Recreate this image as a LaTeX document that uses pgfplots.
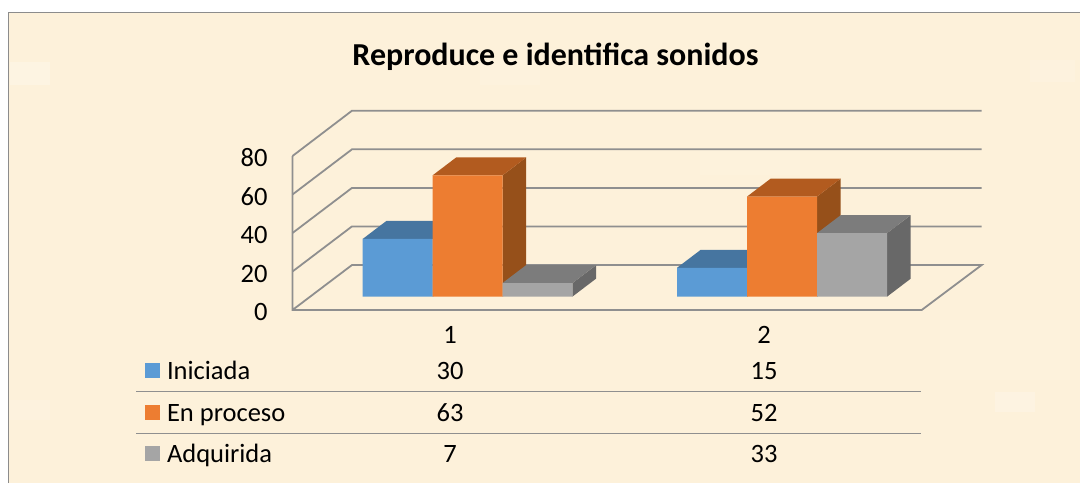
\documentclass[border=0pt]{standalone}
\usepackage{pgfplots}
\pgfplotsset{compat=1.18}
\usepackage{fontspec}
\setmainfont{Carlito}
\definecolor{bgc}{HTML}{FDF1DA}
\definecolor{frm}{HTML}{8C8C8C}
\definecolor{grd}{HTML}{8F8F8F}
\definecolor{bl}{HTML}{5B9BD5}
\definecolor{blt}{HTML}{4675A0}
\definecolor{bls}{HTML}{3D6A94}
\definecolor{or}{HTML}{ED7D31}
\definecolor{ort}{HTML}{B25B1F}
\definecolor{ors}{HTML}{96501A}
\definecolor{gr}{HTML}{A5A5A5}
\definecolor{grt}{HTML}{7C7C7C}
\definecolor{grs}{HTML}{686868}
\pgfplotsset{common/.style={
  scale only axis, width=1080bp, height=483bp, hide axis, clip=true,
  xmin=0, xmax=1080, at={(0,0)}, anchor=south west}}
\def\fs{\fontsize{26.6}{30}\selectfont}
\begin{document}
\begin{tikzpicture}[x=1bp,y=1bp]
% Layout layer: pixel coordinates
\begin{axis}[common, ymin=0, ymax=483, y dir=reverse]
\addplot[fill=white,draw=none] coordinates {(0,0)(1080,0)(1080,483)(0,483)} --cycle;
\addplot[fill=bgc,draw=none] coordinates {(9,13)(1080,13)(1080,483)(9,483)} --cycle;
% soft parchment blotches
\addplot[fill=white,fill opacity=.22,draw=none] coordinates {(10,62)(50,62)(50,85)(10,85)} --cycle;
\addplot[fill=white,fill opacity=.2,draw=none] coordinates {(995,392)(1035,392)(1035,412)(995,412)} --cycle;
\addplot[fill=white,fill opacity=.12,draw=none] coordinates {(1030,60)(1075,60)(1075,82)(1030,82)} --cycle;
\addplot[fill=white,fill opacity=.12,draw=none] coordinates {(10,400)(50,400)(50,420)(10,420)} --cycle;
\addplot[fill=white,fill opacity=.1,draw=none] coordinates {(480,60)(540,60)(540,85)(480,85)} --cycle;
\addplot[fill=white,fill opacity=.08,draw=none] coordinates {(700,150)(800,150)(800,175)(700,175)} --cycle;
\addplot[fill=white,fill opacity=.08,draw=none] coordinates {(940,320)(1070,320)(1070,380)(940,380)} --cycle;
% frame
\addplot[frm,line width=1.6bp] coordinates {(8.5,483)(8.5,12.5)(1080,12.5)};
% walls: gridlines
\addplot[grd,line width=1.8bp] coordinates {(292.5,156)(352,110.7)(981.7,110.7)};
\addplot[grd,line width=1.8bp] coordinates {(292.5,194.5)(352,149.3)(981.7,149.3)};
\addplot[grd,line width=1.8bp] coordinates {(292.5,233)(352,187.9)(981.7,187.9)};
\addplot[grd,line width=1.8bp] coordinates {(292.5,271.5)(352,226.4)(981.7,226.4)};
\addplot[grd,line width=1.8bp] coordinates {(292.5,310)(352,265)(981.7,265)(921.7,310)(292.5,310)(292.5,156)};
% table rules
\addplot[grd,line width=1.4bp] coordinates {(136,391.5)(920.5,391.5)};
\addplot[grd,line width=1.4bp] coordinates {(136,433.5)(920.5,433.5)};
% legend keys
\addplot[fill=bl,draw=none] coordinates {(145,363)(160,363)(160,378)(145,378)} --cycle;
\addplot[fill=or,draw=none] coordinates {(145,405)(160,405)(160,420)(145,420)} --cycle;
\addplot[fill=gr,draw=none] coordinates {(145,446)(160,446)(160,461)(145,461)} --cycle;
% text
\node[font=\bfseries\fontsize{32.1}{36}\selectfont,anchor=base] at (axis cs:555.5,66) {Reproduce e identifica sonidos};
\node[font=\fs,anchor=base east] at (axis cs:271,166.5) {80};
\node[font=\fs,anchor=base east] at (axis cs:271,205) {60};
\node[font=\fs,anchor=base east] at (axis cs:271,243.5) {40};
\node[font=\fs,anchor=base east] at (axis cs:271,282) {20};
\node[font=\fs,anchor=base east] at (axis cs:271,320.5) {0};
\node[font=\fs,anchor=base] at (axis cs:450,343.5) {1};
\node[font=\fs,anchor=base] at (axis cs:764,343.5) {2};
\node[font=\fs,anchor=base west] at (axis cs:163.5,379) {Iniciada};
\node[font=\fs,anchor=base west] at (axis cs:163.5,421) {En proceso};
\node[font=\fs,anchor=base west] at (axis cs:163.5,462.5) {Adquirida};
\node[font=\fs,anchor=base] at (axis cs:450,379) {30};
\node[font=\fs,anchor=base] at (axis cs:764,379) {15};
\node[font=\fs,anchor=base] at (axis cs:450,421) {63};
\node[font=\fs,anchor=base] at (axis cs:764,421) {52};
\node[font=\fs,anchor=base] at (axis cs:450,462.5) {7};
\node[font=\fs,anchor=base] at (axis cs:764,462.5) {33};
\end{axis}
% Bars: y is the value (0 at the bars' base)
\begin{axis}[common, ymin=-96.78, ymax=154.13]
% Iniciada
\addplot[fill=bls,draw=none] coordinates {(432.7,0)(456.4,9.35)(456.4,39.35)(432.7,30)} --cycle;
\addplot[fill=blt,draw=none] coordinates {(362.7,30)(432.7,30)(456.4,39.35)(386.4,39.35)} --cycle;
\addplot[fill=bls,draw=none] coordinates {(747,0)(770.7,9.35)(770.7,24.35)(747,15)} --cycle;
\addplot[fill=blt,draw=none] coordinates {(677,15)(747,15)(770.7,24.35)(700.7,24.35)} --cycle;
\addplot[ybar,bar width=70,bar shift=-70,fill=bl,draw=none] coordinates {(467.5,30)(782,15)};
% En proceso
\addplot[fill=ors,draw=none] coordinates {(502.5,0)(526.2,9.35)(526.2,72.35)(502.5,63)} --cycle;
\addplot[fill=ort,draw=none] coordinates {(432.5,63)(502.5,63)(526.2,72.35)(456.2,72.35)} --cycle;
\addplot[fill=ors,draw=none] coordinates {(817,0)(840.7,9.35)(840.7,61.35)(817,52)} --cycle;
\addplot[fill=ort,draw=none] coordinates {(747,52)(817,52)(840.7,61.35)(770.7,61.35)} --cycle;
\addplot[ybar,bar width=70,bar shift=0,fill=or,draw=none] coordinates {(467.5,63)(782,52)};
% Adquirida
\addplot[fill=grs,draw=none] coordinates {(572.3,0)(596,9.35)(596,16.35)(572.3,7)} --cycle;
\addplot[fill=grt,draw=none] coordinates {(502.3,7)(572.3,7)(596,16.35)(526,16.35)} --cycle;
\addplot[fill=grs,draw=none] coordinates {(887,0)(910.7,9.35)(910.7,42.35)(887,33)} --cycle;
\addplot[fill=grt,draw=none] coordinates {(817,33)(887,33)(910.7,42.35)(840.7,42.35)} --cycle;
\addplot[ybar,bar width=70,bar shift=70,fill=gr,draw=none] coordinates {(467.5,7)(782,33)};
\end{axis}
\end{tikzpicture}
\end{document}
